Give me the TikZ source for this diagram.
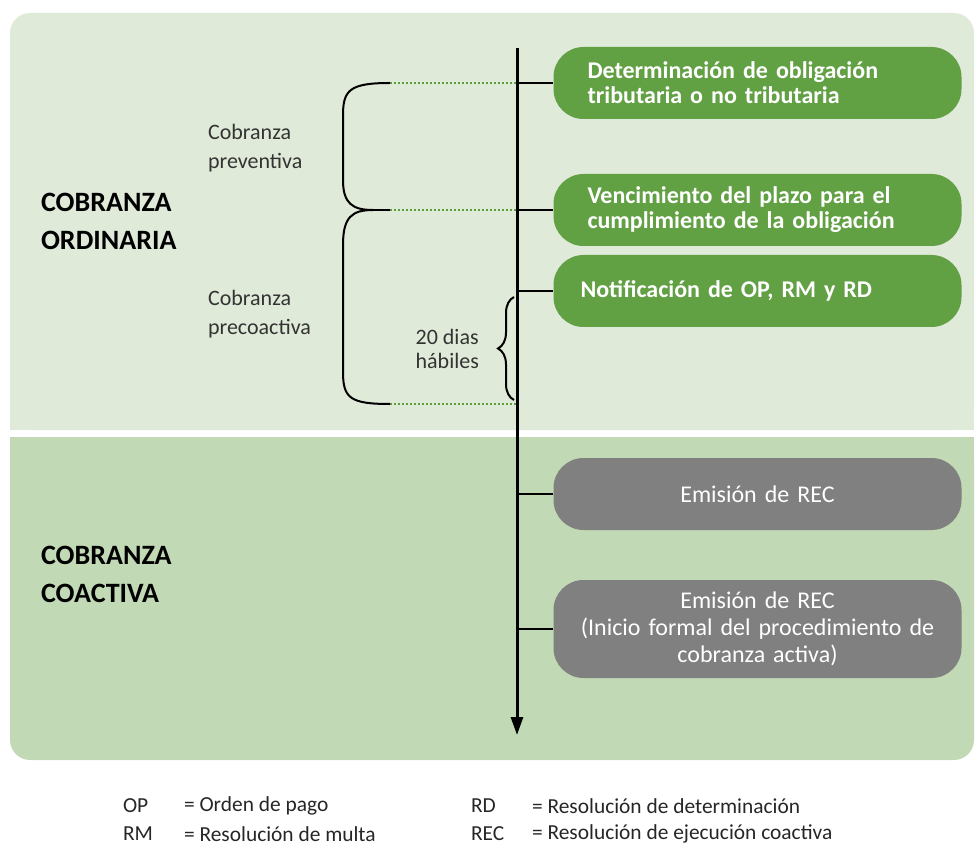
\documentclass[tikz,border=0pt]{standalone}
\usepackage{fontspec}
\setmainfont{Carlito}
\usetikzlibrary{arrows.meta,positioning,decorations.pathreplacing}
\definecolor{panelone}{HTML}{E0EAD9}
\definecolor{paneltwo}{HTML}{C2D9B5}
\definecolor{boxgreen}{HTML}{62A044}
\definecolor{boxgray}{HTML}{808080}
\definecolor{dotgreen}{HTML}{5C9E3E}
\tikzstyle{stage}=[rounded corners=15pt,fill=boxgreen,text=white,font=\fontsize{12}{12.5}\selectfont\bfseries,text width=170pt,inner xsep=17pt,minimum height=36pt,align=left]
\tikzstyle{coact}=[stage,fill=boxgray,font=\fontsize{12}{13.5}\selectfont,text width=192pt,inner xsep=6pt,align=center]
\tikzstyle{link} = [draw,line width=1.4pt]
\tikzstyle{guide} = [draw=dotgreen,line width=0.8pt,dash pattern=on 1.2pt off 0.8pt]
\tikzstyle{bracket} = [draw,line width=1pt]
\tikzstyle{phase}=[anchor=west,align=left,font=\fontsize{14}{19}\selectfont\bfseries]
\tikzstyle{sub}=[anchor=west,align=left,text=black!80,font=\fontsize{11}{14.5}\selectfont]
\tikzstyle{legend}=[anchor=west,text=black!85,font=\fontsize{10.7}{12}\selectfont]

\begin{document}
\begin{tikzpicture}[x=0.5pt,y=-0.5pt]
    \useasboundingbox (0,0) rectangle (975,845);
    % the two bands
    \fill[panelone,rounded corners=10pt] (10,13) rectangle (974,430);
    \fill[panelone] (10,380) rectangle (974,430);
    \fill[paneltwo,rounded corners=10pt] (10,437) rectangle (974,760);
    \fill[paneltwo] (10,437) rectangle (974,480);

    % the time line
    \coordinate (axtop) at (517,48);
    \coordinate (axbot) at (517,735);
    \draw[line width=1.5pt,-{Triangle[length=9pt,width=6pt]}] (axtop) -- (axbot);

    % the stages
    \node[stage] (det) at (757.5,83) {Determinación de obligación\\tributaria o no tributaria};
    \node[stage] (ven) at (757.5,210) {Vencimiento del plazo para el\\cumplimiento de la obligación};
    \node[stage] (notif) at (757.5,291) {\hspace*{-3.5pt}Notificación de OP, RM y RD};
    \node[coact] (emi) at (757.5,494) {Emisión de REC};
    \node[coact,minimum height=49pt] (ini) at (757.5,629) {Emisión de REC\\(Inicio formal del procedimiento de\\cobranza activa)};
    \foreach \b in {det,ven,notif,emi,ini}
        \path[link] (\b.west) -- (\b.west -| axtop);

    % dotted guides and the braces
    \coordinate (g1) at (390,83);
    \coordinate (g2) at (390,210);
    \coordinate (g3) at (390,404);
    \foreach \g in {g1,g2,g3}
        \path[guide] (\g) -- (\g -| axtop);
    \draw[bracket] (g1) .. controls (350,83) and (343,90) .. (343,115) -- (343,180)
        .. controls (343,203) and (352,210) .. (373,210)
        .. controls (352,210) and (343,217) .. (343,245) -- (343,372)
        .. controls (343,398) and (350,404) .. (g3);
    \draw[bracket] (373,210) -- (g2);
    \coordinate (b1) at (514,297);
    \coordinate (b2) at (514,400);
    \draw[bracket,decorate,decoration={brace,amplitude=8pt}] (b2) -- (b1);
    \coordinate (bmid) at (494,349);
    \node[sub,font=\fontsize{11}{12}\selectfont,left=4pt of bmid] (dias) {20 dias\\hábiles};

    % phase labels
    \node[phase] (ord) at (34,221) {COBRANZA\\ORDINARIA};
    \node[phase] (coa) at (34,574) {COBRANZA\\COACTIVA};
    \node[sub] (prev) at (201,148) {Cobranza\\preventiva};
    \node[sub] (prec) at (201,314) {Cobranza\\precoactiva};

    % abbreviations
    \foreach \ab/\txt/\x/\y/\n in {OP/Orden de pago/116/806/op, RM/Resolución de multa/116/834/rm,
        RD/Resolución de determinación/464/806/rd, REC/Resolución de ejecución coactiva/464/834/rec}
    {
        \node[legend] (ab\n) at (\x,\y) {\ab};
        \node[legend] (tx\n) at (\x+61,\y) {= \txt};
    }
\end{tikzpicture}
\end{document}
